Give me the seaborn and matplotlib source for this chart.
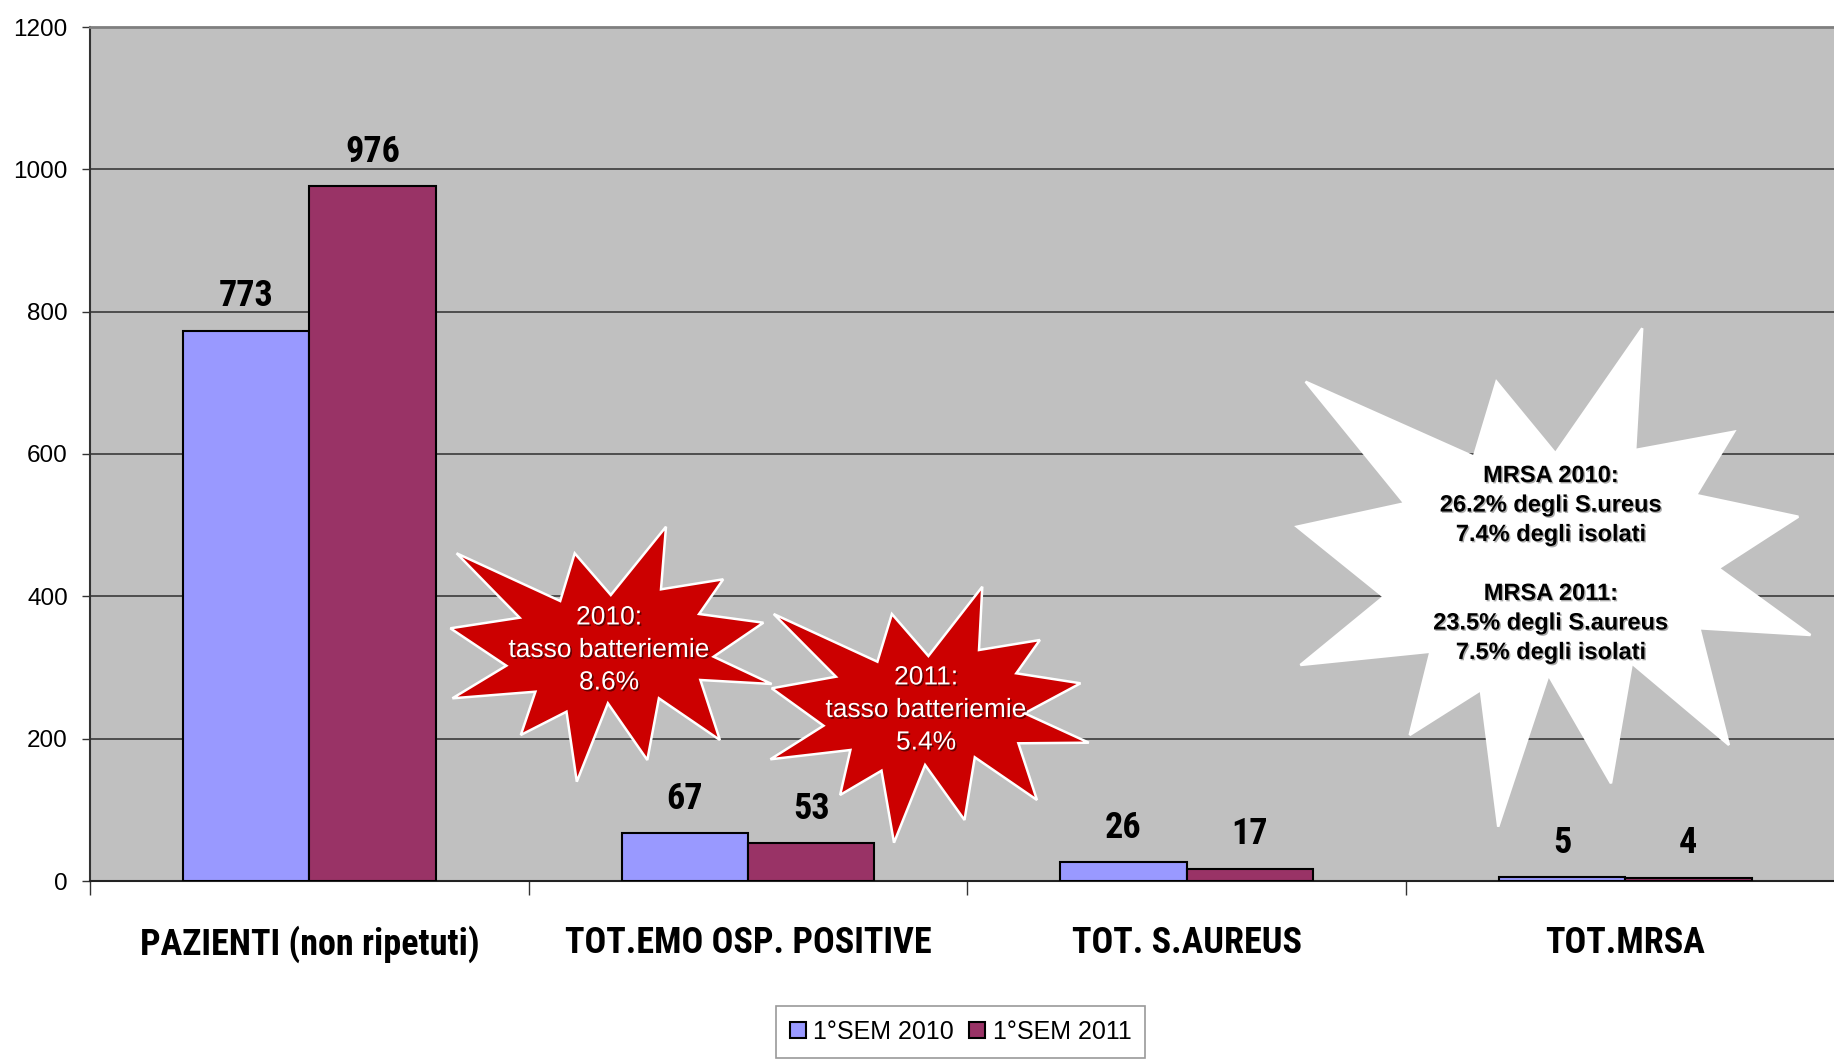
import matplotlib
matplotlib.use("Agg")
import matplotlib.pyplot as plt
import matplotlib.patheffects as pe
from matplotlib.patches import Polygon, Patch
from matplotlib import font_manager
from matplotlib.font_manager import FontProperties
import seaborn as sns
import pandas as pd

# ---- data -------------------------------------------------------------
categorie = ["PAZIENTI (non ripetuti)", "TOT.EMO OSP. POSITIVE",
             "TOT. S.AUREUS", "TOT.MRSA"]
periodi = ["1°SEM 2010", "1°SEM 2011"]
valori_2010 = [773, 67, 26, 5]
valori_2011 = [976, 53, 17, 4]
colori = ["#9999FF", "#993366"]
y_ticks = [0, 200, 400, 600, 800, 1000, 1200]

df = pd.DataFrame({
    "categoria": categorie * 2,
    "periodo": [periodi[0]] * len(categorie) + [periodi[1]] * len(categorie),
    "valore": valori_2010 + valori_2011,
})

# ---- fonts ------------------------------------------------------------
plt.rcParams["font.family"] = ["Liberation Sans", "DejaVu Sans"]


def _is_bold(w):
    if isinstance(w, int):
        return w >= 600
    return str(w).lower() in ("bold", "semibold", "demibold", "heavy", "black",
                              "extra bold", "ultrabold", "demi")


def _is_narrow(f):
    nm = f.name.lower()
    st = f.stretch
    if "narrow" in nm or "condensed" in nm:
        return True
    if isinstance(st, int):
        return st <= 400
    return "condensed" in str(st).lower()


def narrow_bold_font():
    """Pick a narrow bold face for the big labels, if one is installed."""
    prefs = ["liberation sans narrow", "arial narrow", "roboto condensed",
             "dejavu sans", "noto sans", "open sans", "liberation sans"]
    found = [f for f in font_manager.fontManager.ttflist
             if _is_narrow(f) and _is_bold(f.weight)]
    for p in prefs:
        for f in found:
            if f.name.lower().startswith(p):
                return f.fname
    return found[0].fname if found else None


_narrow_path = narrow_bold_font()
if _narrow_path:
    big_font = FontProperties(fname=_narrow_path, size=26)
else:
    big_font = FontProperties(family="Liberation Sans", weight="bold", size=22)

# ---- figure / axes ----------------------------------------------------
W, H = 1834, 1059
fig = plt.figure(figsize=(W / 100, H / 100), dpi=100)
fig.patch.set_facecolor("white")
ax = fig.add_axes([90 / W, 1 - 881 / H, 1754.5 / W, (881 - 27) / H])
ax.set_facecolor("#C0C0C0")

sns.barplot(data=df, x="categoria", y="valore", hue="periodo",
            palette=colori, width=0.576, edgecolor="black", linewidth=1.5,
            saturation=1, legend=False, ax=ax, zorder=3)

ax.set_xlim(-0.5, 3.5)
ax.set_ylim(0, 1200)
ax.set_yticks(y_ticks)
ax.set_yticklabels([str(v) for v in y_ticks])
ax.set_xlabel("")
ax.set_ylabel("")

ax.yaxis.grid(True, color="#3a3a3a", linewidth=1.2)
ax.xaxis.grid(False)
ax.set_axisbelow(True)

ax.spines["top"].set_color("#7f7f7f")
ax.spines["top"].set_linewidth(2)
ax.spines["left"].set_color("#333333")
ax.spines["left"].set_linewidth(1.5)
ax.spines["bottom"].set_color("#222222")
ax.spines["bottom"].set_linewidth(1.5)
ax.spines["right"].set_visible(False)

ax.tick_params(axis="y", length=6, width=1, color="#333333",
               labelsize=17.5, pad=10)
ax.tick_params(axis="x", which="major", length=0, pad=32)
for lab in ax.get_xticklabels():
    lab.set_fontproperties(big_font)
ax.set_xticks([-0.5, 0.5, 1.5, 2.5, 3.5], minor=True)
ax.tick_params(axis="x", which="minor", length=10, width=1, color="#333333")

# value labels above each bar
for cont in ax.containers:
    ax.bar_label(cont, fmt="%d", padding=12, fontproperties=big_font,
                 color="black")

# ---- legend -----------------------------------------------------------
handles = [Patch(facecolor=c, edgecolor="black", linewidth=1.5) for c in colori]
leg = ax.legend(handles, periodi, loc="upper center",
                bbox_to_anchor=(960.5 / W, 1 - 1006 / H),
                bbox_transform=fig.transFigure, ncol=2, fontsize=18,
                frameon=True, fancybox=False, edgecolor="#808080",
                handlelength=0.65, handleheight=0.65, handletextpad=0.3,
                columnspacing=0.6, borderpad=0.55, borderaxespad=0)
leg.get_frame().set_linewidth(1.2)
leg.get_frame().set_facecolor("white")


# ---- callout bursts (canvas pixel outlines) ---------------------------
def to_fig(points):
    return [(x / W, 1 - y / H) for x, y in points]


burst_2010 = [(456.6, 553.3), (560.2, 601), (574.7, 553.3), (610.8, 595),
              (666, 526.7), (661, 589.3), (723.2, 579.3), (699.1, 614),
              (763.4, 622.7), (713.6, 656.7), (771.7, 684), (700.4, 680),
              (719.9, 740), (658.9, 698.3), (647.3, 760), (607.9, 703.3),
              (576.8, 781.7), (566.5, 711.7), (520.8, 735), (535.4, 691.7),
              (452.4, 698.3), (506.3, 665.7), (450.4, 628.3), (519.6, 617.7)]
burst_2011 = [(773.7, 614), (877.4, 661.7), (891.9, 614), (928.4, 656),
              (982.3, 586.7), (979, 650), (1039.9, 640), (1016.3, 673.3),
              (1080.5, 683.3), (1024.6, 713.3), (1088.8, 742.7), (1018.4, 743.3),
              (1037, 800), (974.8, 757.3), (964.5, 820), (925.1, 765),
              (894, 842.7), (881.5, 770.7), (840.1, 795), (850.4, 750),
              (770.4, 759.3), (823.5, 725.7), (771.7, 688.3), (835.9, 676.7)]
burst_mrsa = [(1305.6, 381.7), (1473.9, 456.7), (1496.5, 381.7), (1555.4, 453.3),
              (1642.2, 328.3), (1635.2, 450), (1734.1, 431.7), (1696, 495),
              (1798.3, 516.7), (1718.5, 568.3), (1810.5, 635), (1699.4, 628.3),
              (1728.9, 745), (1631.8, 663.3), (1611, 783.3), (1548.5, 675),
              (1498.2, 826.7), (1480.8, 690), (1409.7, 735), (1430.5, 651.7),
              (1300.4, 665), (1383.7, 596.7), (1296.9, 526.7), (1404.5, 503.3)]

for pts, face, edge in [(burst_2010, "#CC0000", "white"),
                        (burst_2011, "#CC0000", "white"),
                        (burst_mrsa, "white", "white")]:
    fig.add_artist(Polygon(to_fig(pts), closed=True, facecolor=face,
                           edgecolor=edge, linewidth=1.8,
                           transform=fig.transFigure, zorder=5))

shadow_dark = [pe.withSimplePatchShadow(offset=(1.2, -1.2),
                                        shadow_rgbFace="#3a0000", alpha=0.7)]
shadow_grey = [pe.withSimplePatchShadow(offset=(1.0, -1.0),
                                        shadow_rgbFace="#999999", alpha=0.8)]

fig.text(609 / W, 1 - 650 / H, "2010:\ntasso batteriemie\n8.6%",
         ha="center", va="center", color="white", fontsize=19,
         linespacing=1.45, zorder=6, path_effects=shadow_dark)
fig.text(926 / W, 1 - 710 / H, "2011:\ntasso batteriemie\n5.4%",
         ha="center", va="center", color="white", fontsize=19,
         linespacing=1.45, zorder=6, path_effects=shadow_dark)
fig.text(1551 / W, 1 - 564 / H,
         "MRSA 2010:\n26.2% degli S.ureus\n7.4% degli isolati\n\n"
         "MRSA 2011:\n23.5% degli S.aureus\n7.5% degli isolati",
         ha="center", va="center", color="black", fontsize=17,
         fontweight="bold", linespacing=1.36, zorder=6,
         path_effects=shadow_grey)

fig.savefig("out.png", dpi=100)
